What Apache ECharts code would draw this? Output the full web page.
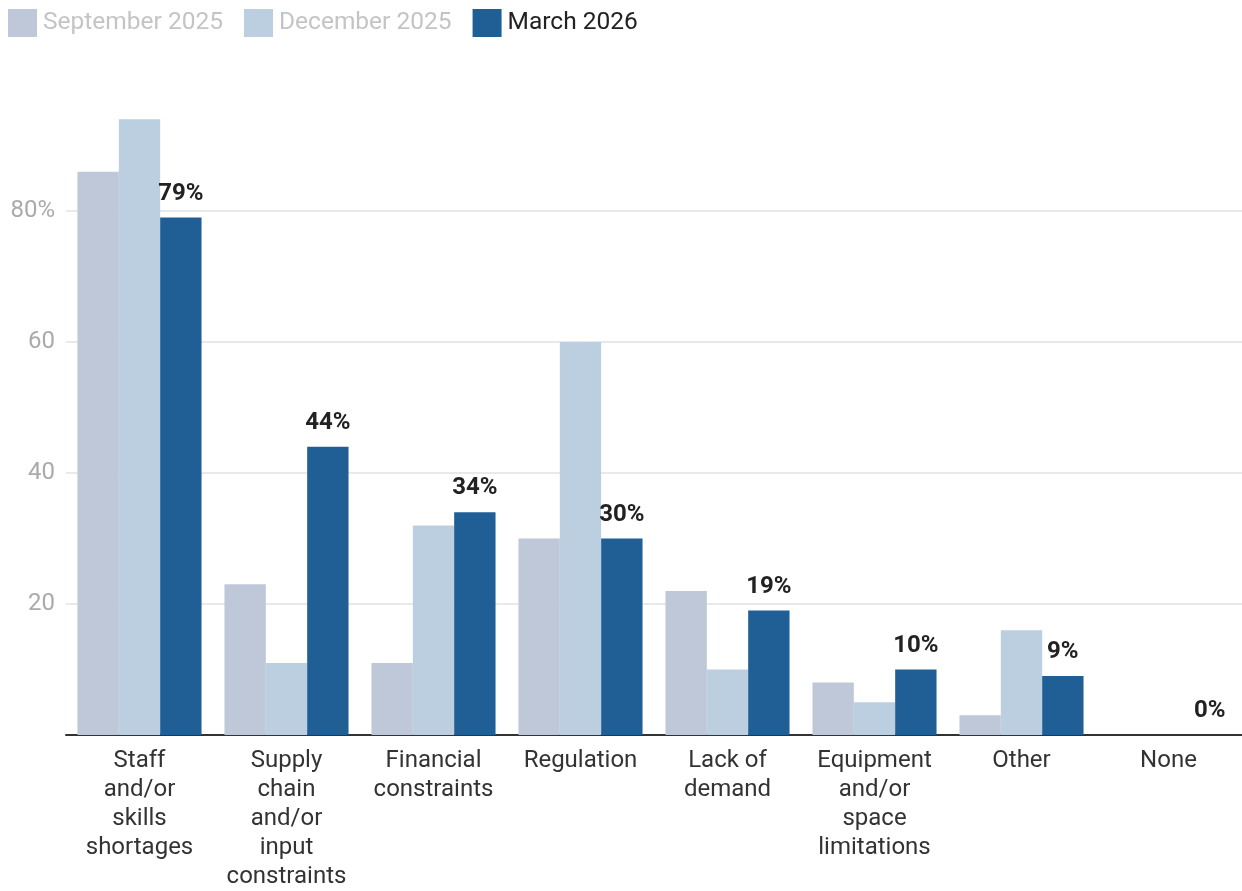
<!DOCTYPE html>
<html>
<head>
<meta charset="utf-8">
<script src="https://cdn.jsdelivr.net/npm/echarts@6/dist/echarts.min.js"></script>
<style>
  html, body { margin: 0; padding: 0; background: #ffffff; }
  #chart { width: 1242px; height: 891px; }
</style>
</head>
<body>
<div id="chart"></div>
<script>
// Categories of business constraints
const categories = [
  'Staff\nand/or\nskills\nshortages',
  'Supply\nchain\nand/or\ninput\nconstraints',
  'Financial\nconstraints',
  'Regulation',
  'Lack of\ndemand',
  'Equipment\nand/or\nspace\nlimitations',
  'Other',
  'None'
];

// Share of respondents (%) per survey wave
const september2025 = [86, 23, 11, 30, 22, 8, 3, 0];
const december2025  = [94, 11, 32, 60, 10, 5, 16, 0];
const march2026     = [79, 44, 34, 30, 19, 10, 9, 0];

const seriesNames = ['September 2025', 'December 2025', 'March 2026'];
const yTicks = [0, 20, 40, 60, 80, 100];

const FONT = 'Roboto, "Noto Sans", sans-serif';
const colors = ['#bec8d8', '#bccfe0', '#1f5f96'];

const chart = echarts.init(document.getElementById('chart'), null, { renderer: 'canvas' });

chart.setOption({
  animation: false,
  textStyle: { fontFamily: FONT },
  legend: {
    left: 8,
    top: 9,
    padding: 0,
    itemWidth: 29,
    itemHeight: 28,
    itemGap: 21,
    icon: 'rect',
    textStyle: { fontFamily: FONT, fontSize: 24.5, padding: [0, 0, 0, 1] },
    data: [
      { name: seriesNames[0], textStyle: { color: '#c4c4c4' } },
      { name: seriesNames[1], textStyle: { color: '#c4c4c4' } },
      { name: seriesNames[2], textStyle: { color: '#222222' } }
    ]
  },
  grid: { left: 66, right: 0, top: 80, bottom: 153, containLabel: false },
  xAxis: {
    type: 'category',
    data: categories,
    axisTick: { show: false },
    axisLine: { lineStyle: { color: '#333333', width: 2 } },
    axisLabel: {
      interval: 0,
      margin: 11,
      fontFamily: FONT,
      fontSize: 24,
      lineHeight: 29,
      color: '#333333',
      align: 'center',
      verticalAlign: 'top'
    }
  },
  yAxis: {
    type: 'value',
    min: yTicks[0],
    max: yTicks[yTicks.length - 1],
    interval: 20,
    axisLine: { show: false },
    axisTick: { show: false },
    splitLine: {
      show: true,
      showMinLine: false,
      showMaxLine: false,
      lineStyle: { color: '#e2e2e2', width: 1.5 }
    },
    axisLabel: {
      margin: 11,
      fontFamily: FONT,
      fontSize: 24,
      color: '#aaaaaa',
      formatter: function (v) {
        if (v === 0 || v === 100) return '';
        return v === 80 ? v + '%' : String(v);
      }
    }
  },
  series: [
    {
      name: seriesNames[0],
      type: 'bar',
      data: september2025,
      barGap: '0%',
      barCategoryGap: '15.6%',
      itemStyle: { color: colors[0] }
    },
    {
      name: seriesNames[1],
      type: 'bar',
      data: december2025,
      barGap: '0%',
      barCategoryGap: '15.6%',
      itemStyle: { color: colors[1] }
    },
    {
      name: seriesNames[2],
      type: 'bar',
      data: march2026,
      barGap: '0%',
      barCategoryGap: '15.6%',
      itemStyle: { color: colors[2] },
      label: {
        show: true,
        position: 'top',
        distance: 12,
        fontFamily: FONT,
        fontSize: 24,
        fontWeight: 'bold',
        color: '#222222',
        formatter: function (p) { return p.value + '%'; }
      }
    }
  ]
});
</script>
</body>
</html>
